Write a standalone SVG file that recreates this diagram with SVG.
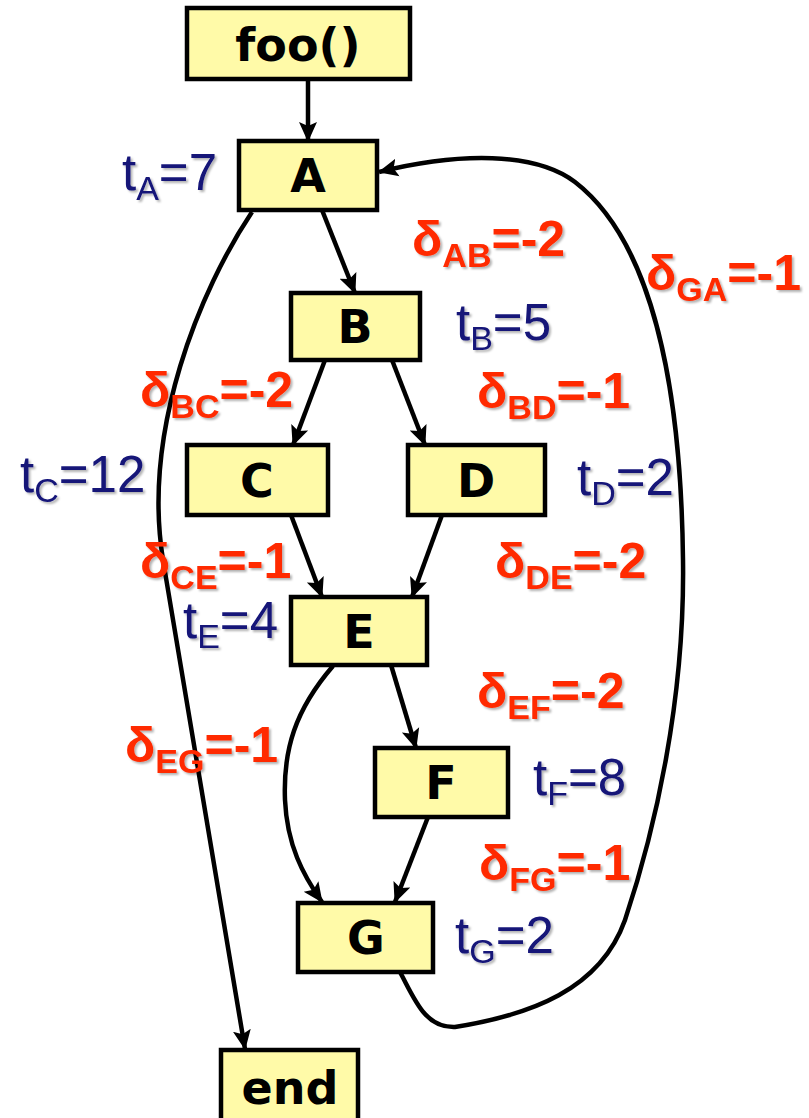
<svg xmlns="http://www.w3.org/2000/svg" width="809" height="1118" viewBox="0 0 809 1118">
<defs>
<marker id="ah" viewBox="0 0 20 20" refX="19" refY="10" markerWidth="20" markerHeight="20" markerUnits="userSpaceOnUse" orient="auto">
<path d="M0,1 L20,10 L0,19 L4,10 z" fill="#000"/>
</marker>
<filter id="sh" x="-10%" y="-10%" width="130%" height="140%">
<feDropShadow dx="2" dy="2" stdDeviation="1.2" flood-color="#000" flood-opacity="0.3"/>
</filter>
</defs>
<style>
.box{fill:#fffaa8;stroke:#000;stroke-width:4.5}
.nt{font-family:"DejaVu Sans",sans-serif;font-weight:bold;font-size:46px;text-anchor:middle;fill:#000}
.e{fill:none;stroke:#000;stroke-width:4.5;marker-end:url(#ah)}
.t{font-family:"Liberation Sans",Arial,sans-serif;font-size:51px;fill:#121278;filter:url(#sh)}
.d{font-family:"Liberation Sans",Arial,sans-serif;font-size:50px;font-weight:bold;fill:#ff2a00;filter:url(#sh)}
.s{font-size:34px}
</style>
<g id="edges">
<path class="e" d="M308,79 L308,141"/>
<path class="e" d="M322,210 L355,293"/>
<path class="e" d="M325,360 L293,445"/>
<path class="e" d="M392,360 L425,445"/>
<path class="e" d="M291,515 L322,597"/>
<path class="e" d="M442,515 L412,597"/>
<path class="e" d="M391,665 L416,748"/>
<path class="e" d="M333,666 C295,710 283,750 285,800 C287,845 303,875 322,902"/>
<path class="e" d="M428,817 L395,902"/>
<path class="e" d="M252,212 C200,290 142,430 163,560 L245,1049"/>
<path class="e" d="M400,972 C415,1000 425,1028 455,1027 C530,1015 600,990 625,920 C655,830 685,700 683,560 C681,380 650,240 575,182 C535,152 460,152 379,172"/>
</g>
<g id="foo"><rect class="box" x="187" y="8" width="223" height="71"/><text class="nt" x="298" y="61">foo()</text></g>
<g id="A"><rect class="box" x="239" y="141" width="138" height="69"/><text class="nt" x="308" y="192">A</text></g>
<g id="B"><rect class="box" x="291" y="293" width="129" height="67"/><text class="nt" x="355" y="343">B</text></g>
<g id="C"><rect class="box" x="187" y="445" width="141" height="70"/><text class="nt" x="257" y="497">C</text></g>
<g id="D"><rect class="box" x="408" y="445" width="137" height="70"/><text class="nt" x="476" y="497">D</text></g>
<g id="E"><rect class="box" x="291" y="597" width="136" height="68"/><text class="nt" x="359" y="648">E</text></g>
<g id="F"><rect class="box" x="375" y="748" width="133" height="69"/><text class="nt" x="441" y="799">F</text></g>
<g id="G"><rect class="box" x="298" y="903" width="135" height="69"/><text class="nt" x="366" y="954">G</text></g>
<g id="end"><rect class="box" x="221" y="1050" width="137" height="75"/><text class="nt" x="290" y="1104">end</text></g>
<g id="labels">
<text class="t" x="122" y="190">t<tspan class="s" dy="10">A</tspan><tspan dy="-10">=7</tspan></text>
<text class="d" x="412" y="256">δ<tspan class="s" dy="11">AB</tspan><tspan dy="-11">=-2</tspan></text>
<text class="d" x="646" y="290">δ<tspan class="s" dy="11">GA</tspan><tspan dy="-11">=-1</tspan></text>
<text class="t" x="456" y="340">t<tspan class="s" dy="10">B</tspan><tspan dy="-10">=5</tspan></text>
<text class="d" x="140" y="407">δ<tspan class="s" dy="11">BC</tspan><tspan dy="-11">=-2</tspan></text>
<text class="d" x="477" y="408">δ<tspan class="s" dy="11">BD</tspan><tspan dy="-11">=-1</tspan></text>
<text class="t" x="20" y="492">t<tspan class="s" dy="10">C</tspan><tspan dy="-10">=12</tspan></text>
<text class="t" x="577" y="495">t<tspan class="s" dy="10">D</tspan><tspan dy="-10">=2</tspan></text>
<text class="d" x="140" y="578">δ<tspan class="s" dy="11">CE</tspan><tspan dy="-11">=-1</tspan></text>
<text class="d" x="495" y="578">δ<tspan class="s" dy="11">DE</tspan><tspan dy="-11">=-2</tspan></text>
<text class="t" x="183" y="638">t<tspan class="s" dy="10">E</tspan><tspan dy="-10">=4</tspan></text>
<text class="d" x="477" y="708">δ<tspan class="s" dy="11">EF</tspan><tspan dy="-11">=-2</tspan></text>
<text class="d" x="125" y="762">δ<tspan class="s" dy="11">EG</tspan><tspan dy="-11">=-1</tspan></text>
<text class="t" x="533" y="795">t<tspan class="s" dy="10">F</tspan><tspan dy="-10">=8</tspan></text>
<text class="d" x="479" y="880">δ<tspan class="s" dy="11">FG</tspan><tspan dy="-11">=-1</tspan></text>
<text class="t" x="455" y="953">t<tspan class="s" dy="10">G</tspan><tspan dy="-10">=2</tspan></text>
</g>
</svg>
